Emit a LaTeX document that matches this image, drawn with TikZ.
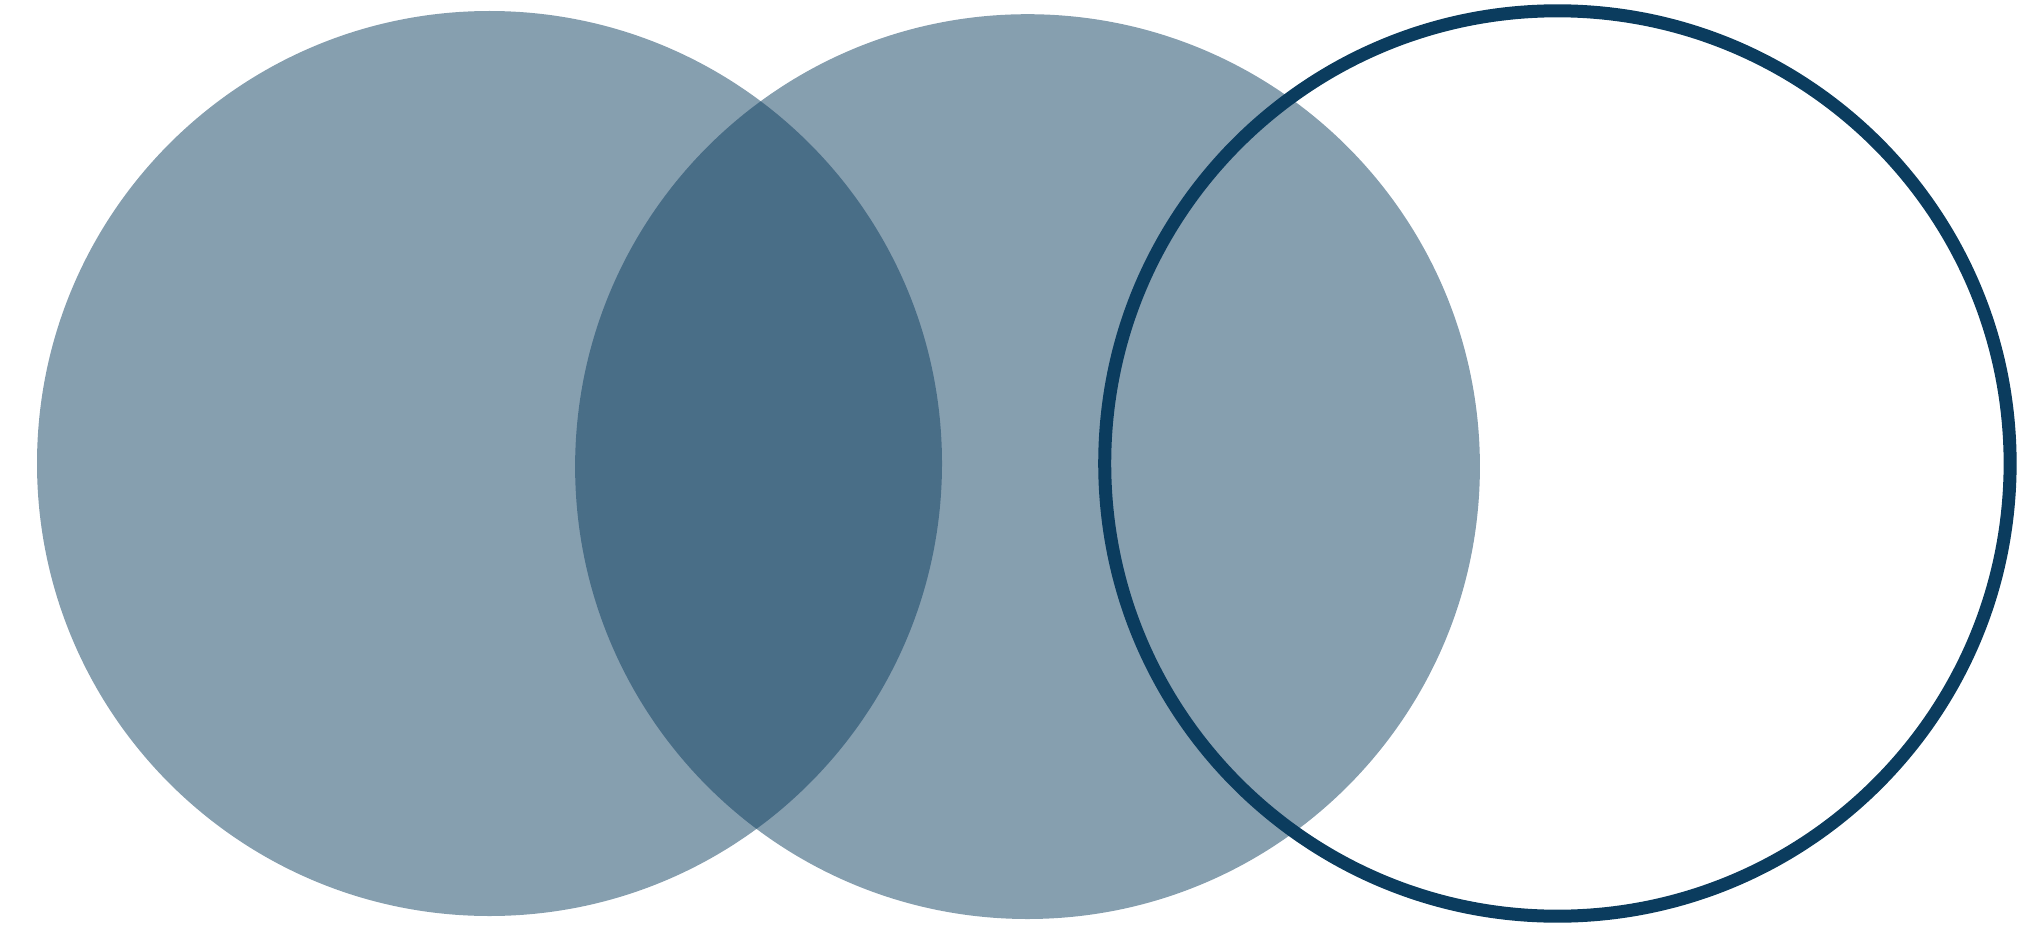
\documentclass[tikz,border=0pt]{standalone}
\definecolor{venn}{RGB}{11,60,94}
\tikzset{vennfill/.style={fill=venn,fill opacity=0.495},
         vennring/.style={draw=venn,line width=0.13cm}}
\begin{document}
\begin{tikzpicture}
\useasboundingbox (0,0) rectangle (20.19,9.26);
\fill[vennfill] (4.895,4.625) circle (4.525);
\fill[vennfill] (10.275,4.594) circle (4.524);
\draw[vennring] (15.574,4.625) circle (4.527);
\end{tikzpicture}
\end{document}
